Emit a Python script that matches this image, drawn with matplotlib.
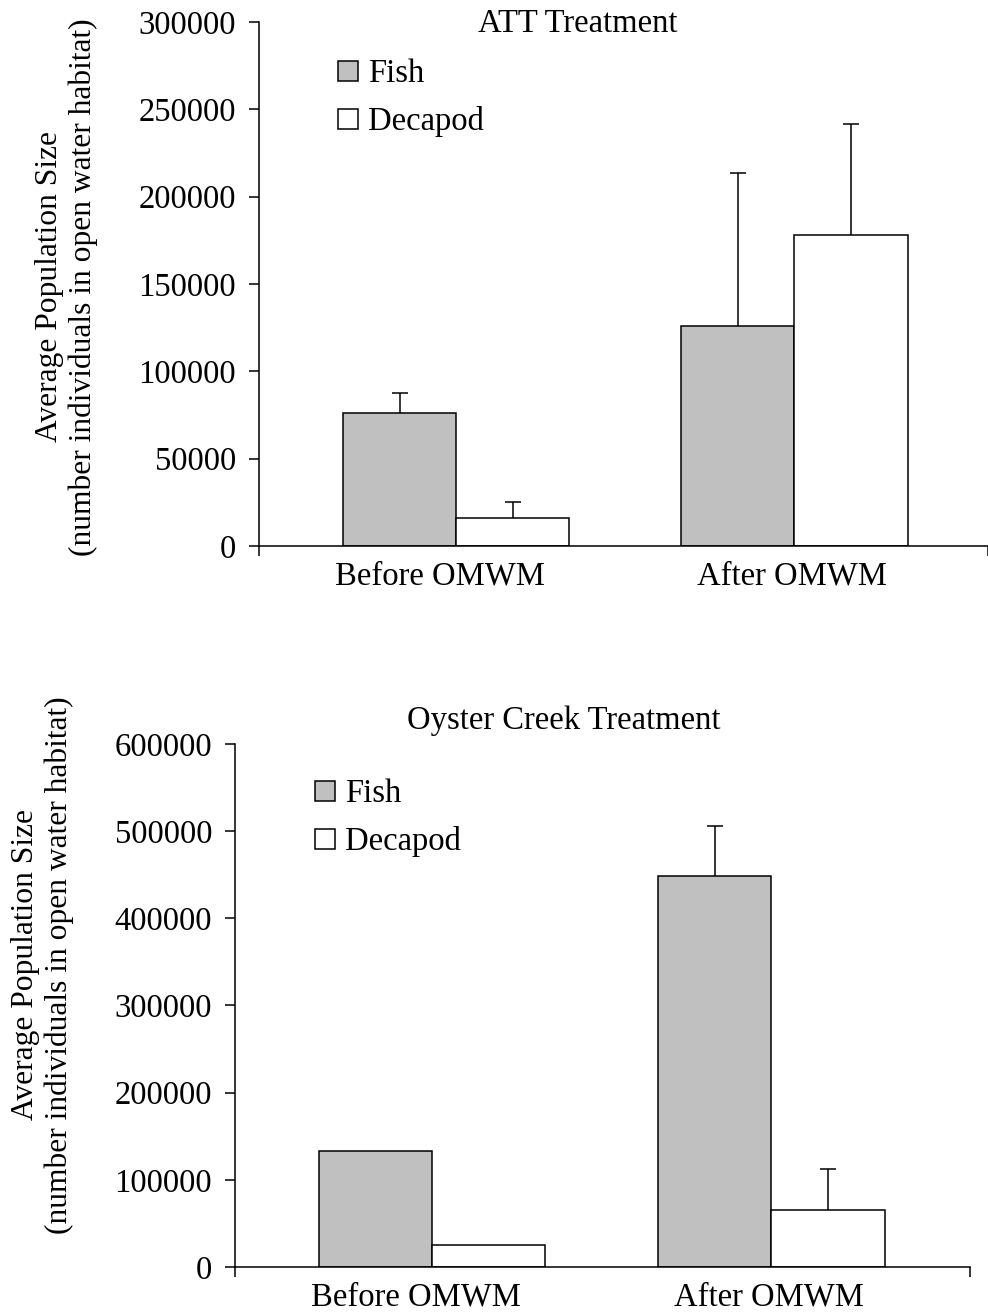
import numpy as np
import matplotlib
matplotlib.use('Agg')
import matplotlib.pyplot as plt
from matplotlib.patches import Patch

plt.rcParams['font.family'] = ['Liberation Serif', 'DejaVu Serif']

# Data
categories = ['Before OMWM', 'After OMWM']
series_names = ['Fish', 'Decapod']

att_fish = [76000, 126000]
att_fish_err = [11500, 87500]
att_decapod = [16000, 178000]
att_decapod_err = [9000, 63500]

oyster_fish = [133000, 448000]
oyster_fish_err = [0, 58000]
oyster_decapod = [25000, 66000]
oyster_decapod_err = [0, 46000]

att_yticks = [0, 50000, 100000, 150000, 200000, 250000, 300000]
oyster_yticks = [0, 100000, 200000, 300000, 400000, 500000, 600000]

ylabel_text = 'Average Population Size\n(number individuals in open water habitat)'

FS = 23.5
FS_YLABEL = 22.7
LW = 1.1
fish_color = '#c0c0c0'
decapod_color = 'white'

# small left shift of the category labels, as in the original figure
label_shift = [-0.048, -0.008]


# upper-only error bars (skip zero errors, hide the cap at the bar top)
def draw_errorbars(ax, xpos, values, errors):
    xpos = np.asarray(xpos)
    values = np.asarray(values)
    errors = np.asarray(errors)
    keep = errors > 0
    if not keep.any():
        return
    _, caplines, _ = ax.errorbar(xpos[keep], values[keep], yerr=[np.zeros(keep.sum()), errors[keep]],
                                 fmt='none', ecolor='black', elinewidth=LW, capsize=5.5,
                                 capthick=LW, zorder=3)
    if len(caplines) == 2:
        caplines[0].set_visible(False)


# Draw one grouped bar panel
def plot_panel(ax, fish, fish_err, decapod, decapod_err, yticks, xlim, width):
    x = np.arange(len(categories))
    ax.bar(x - width / 2, fish, width, color=fish_color, edgecolor='black', linewidth=LW, zorder=2)
    ax.bar(x + width / 2, decapod, width, color=decapod_color, edgecolor='black', linewidth=LW, zorder=2)
    draw_errorbars(ax, x - width / 2, fish, fish_err)
    draw_errorbars(ax, x + width / 2, decapod, decapod_err)

    ax.set_xlim(*xlim)
    ax.set_ylim(yticks[0], yticks[-1])
    ax.set_yticks(yticks)
    ax.set_yticklabels([str(t) for t in yticks])

    # tick marks only at the ends of the category axis, labels in the middle
    ax.set_xticks(list(xlim))
    ax.set_xticklabels(['', ''])
    ax.set_xticks(x + np.array(label_shift), minor=True)
    ax.set_xticklabels(categories, minor=True)
    ax.tick_params(axis='x', which='major', length=7.5, width=LW, direction='out')
    ax.tick_params(axis='x', which='minor', length=0, pad=11, labelsize=FS)
    ax.tick_params(axis='y', length=7.5, width=LW, direction='out', pad=9, labelsize=FS)

    for side in ['top', 'right']:
        ax.spines[side].set_visible(False)
    for side in ['left', 'bottom']:
        ax.spines[side].set_linewidth(LW)
    ax.spines['bottom'].set_zorder(4)

    handles = [Patch(facecolor=fish_color, edgecolor='black', linewidth=LW),
               Patch(facecolor=decapod_color, edgecolor='black', linewidth=LW)]
    return handles


def add_legend(ax, handles, x_px, y_px):
    ax.legend(handles, series_names, loc='upper left', bbox_to_anchor=(x_px / 988, 1 - y_px / 1313),
              bbox_transform=fig.transFigure, frameon=False, fontsize=FS,
              handlelength=0.62, handleheight=0.6, handletextpad=0.3,
              labelspacing=0.52, borderpad=0, borderaxespad=0)


fig = plt.figure(figsize=(9.88, 13.13), dpi=100)

# Top panel: ATT Treatment
ax1 = fig.add_axes([0.2622, 0.5842, 0.7379, 0.3990])
h = plot_panel(ax1, att_fish, att_fish_err, att_decapod, att_decapod_err,
               att_yticks, (-0.582, 1.572), 0.334)
add_legend(ax1, h, 338, 59)
fig.text(578 / 988, 1 - 24 / 1313, 'ATT Treatment', ha='center', va='center', fontsize=FS)
fig.text(67 / 988, 1 - 287 / 1313, ylabel_text, rotation=90, ha='center', va='center',
         fontsize=FS_YLABEL, multialignment='center')

# Bottom panel: Oyster Creek Treatment
ax2 = fig.add_axes([0.2379, 0.0350, 0.7440, 0.3984])
h = plot_panel(ax2, oyster_fish, oyster_fish_err, oyster_decapod, oyster_decapod_err,
               oyster_yticks, (-0.580, 1.585), 0.333)
add_legend(ax2, h, 315, 779)
fig.text(564 / 988, 1 - 721 / 1313, 'Oyster Creek Treatment', ha='center', va='center', fontsize=FS)
fig.text(43 / 988, 1 - 965 / 1313, ylabel_text, rotation=90, ha='center', va='center',
         fontsize=FS_YLABEL, multialignment='center')

plt.savefig('out.png', dpi=100)
plt.close()
